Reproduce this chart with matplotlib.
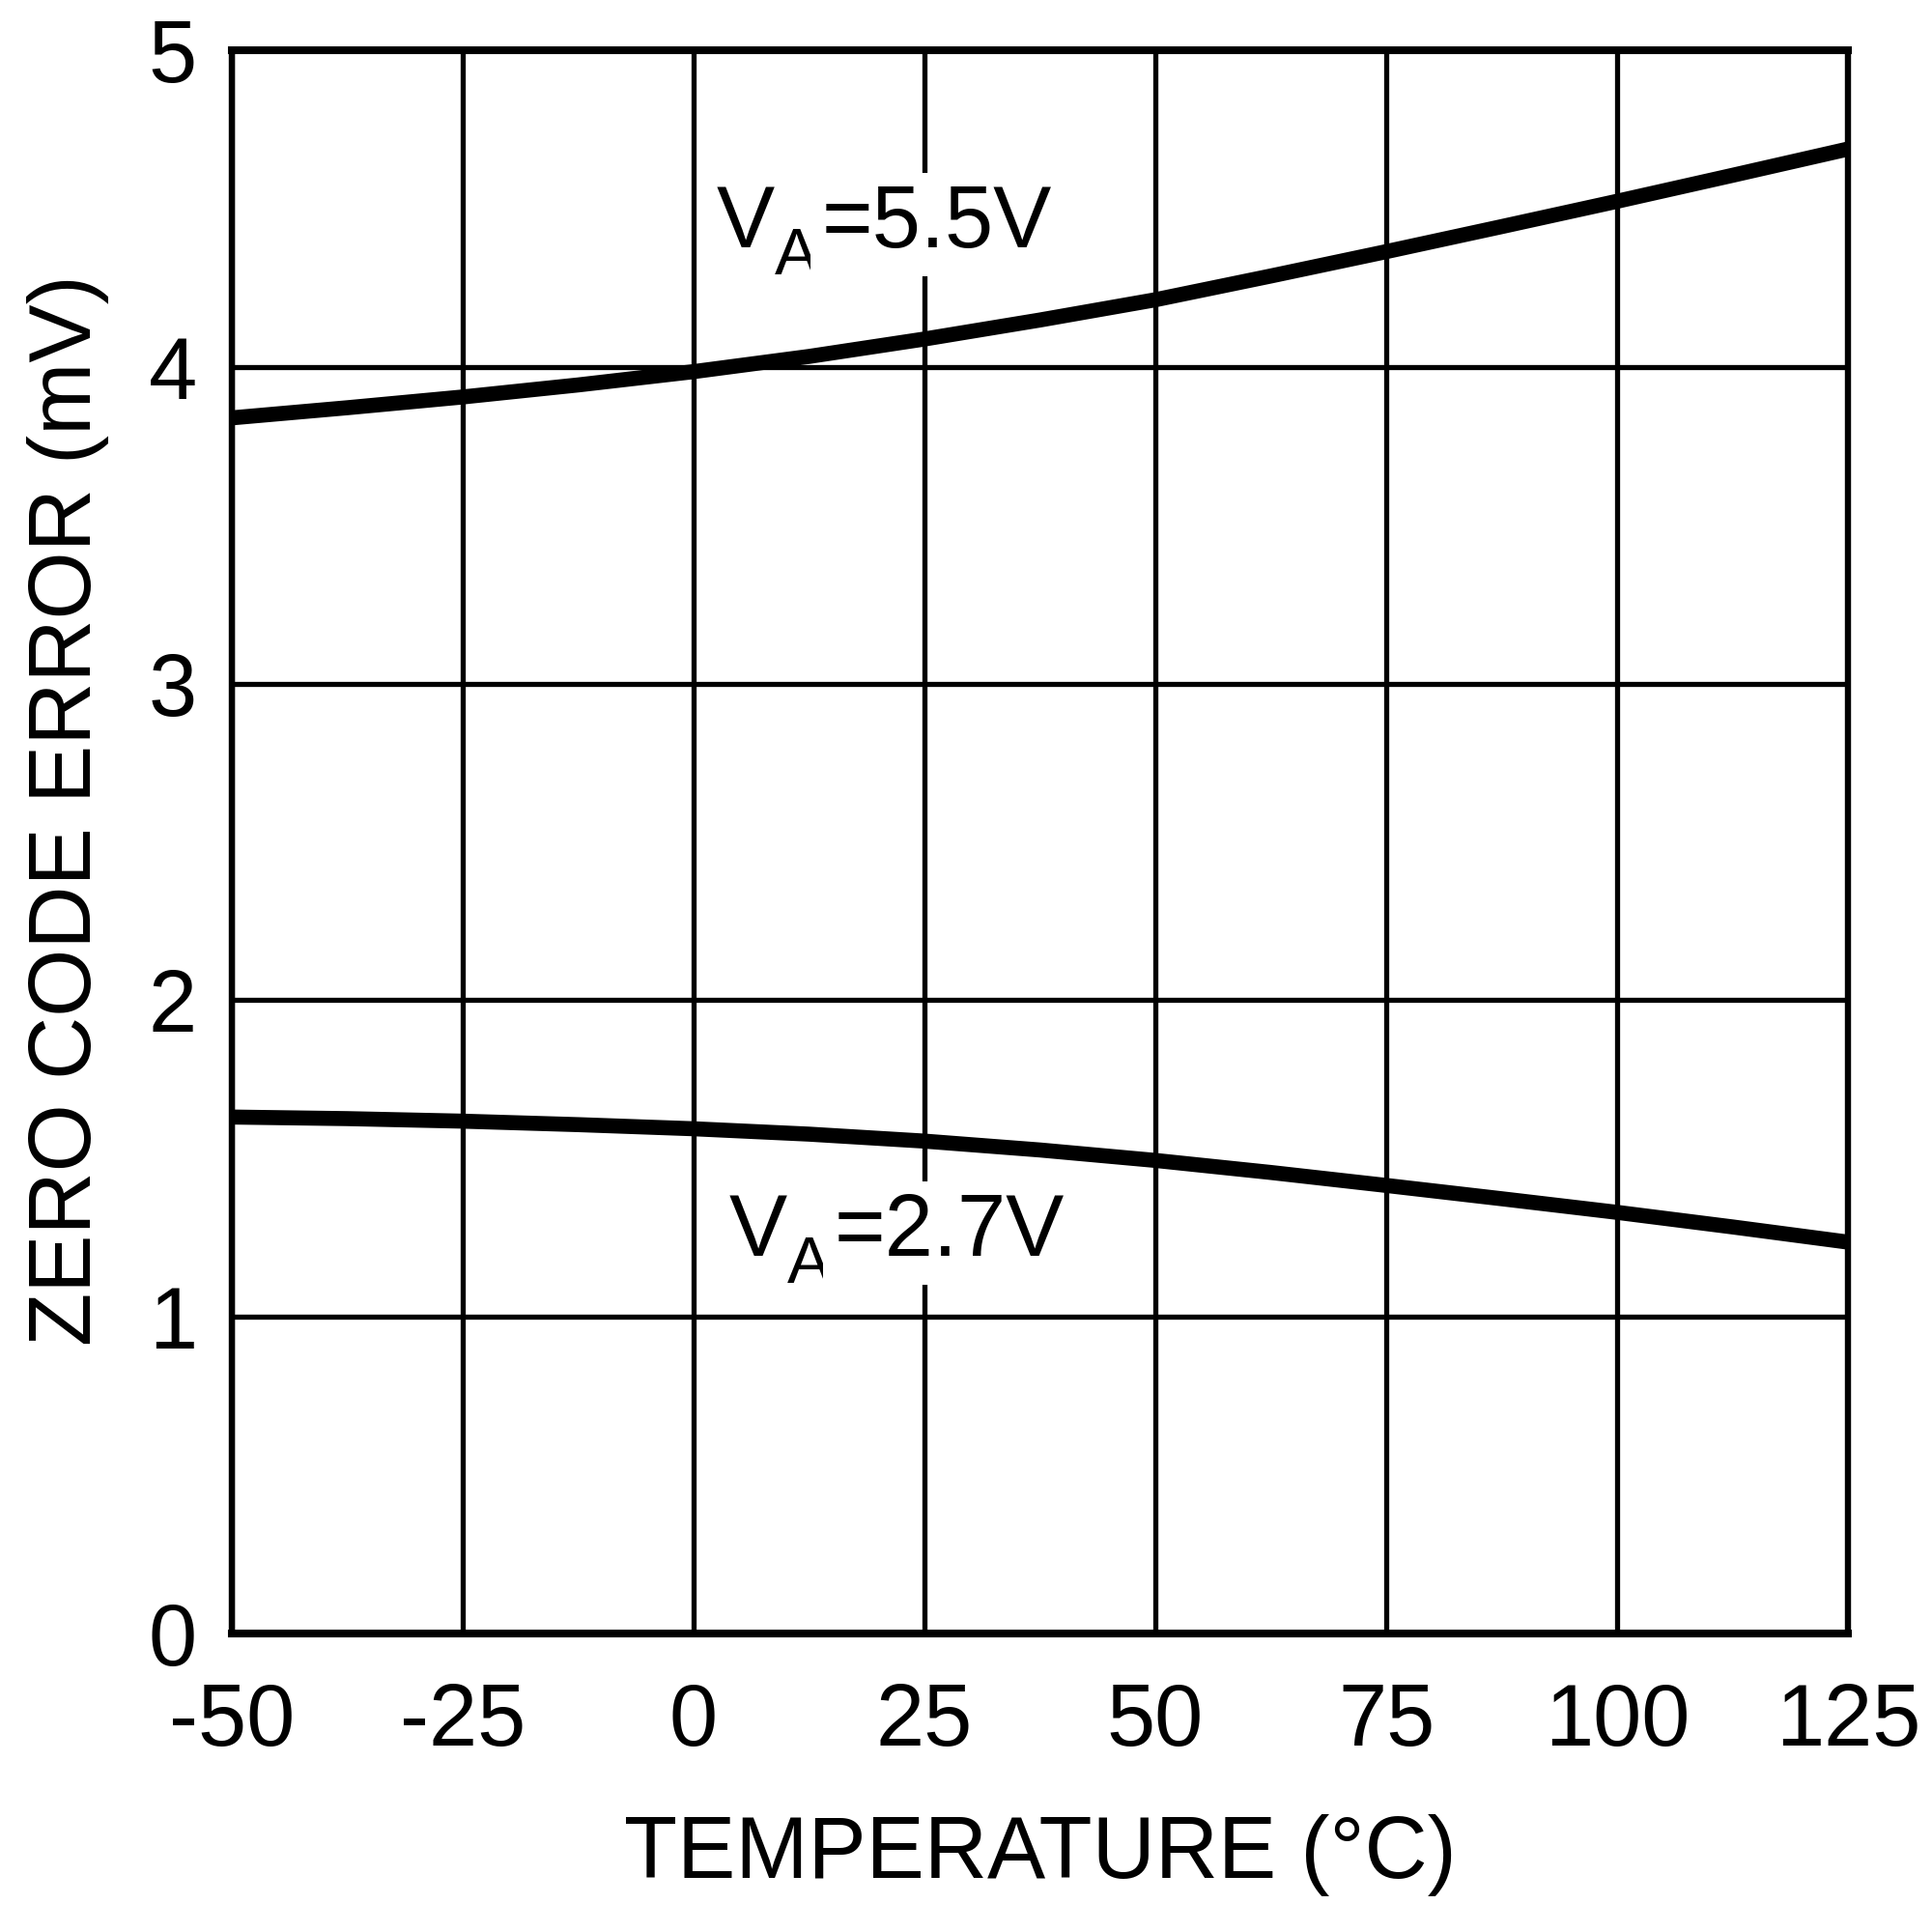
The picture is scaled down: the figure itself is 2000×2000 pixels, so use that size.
import matplotlib
matplotlib.use('Agg')
import matplotlib.pyplot as plt

plt.rcParams['font.family'] = ['Liberation Sans', 'DejaVu Sans']
plt.rcParams['axes.unicode_minus'] = False

# temperature (degC) and zero code error (mV)
temp = [-50, -37.5, -25, -12.5, 0, 12.5, 25, 37.5, 50, 62.5, 75, 87.5, 100, 112.5, 125]
err_55 = [3.839, 3.871, 3.905, 3.943, 3.985, 4.033, 4.088, 4.148,
          4.212, 4.287, 4.364, 4.443, 4.523, 4.605, 4.688]
err_27 = [1.631, 1.626, 1.618, 1.607, 1.594, 1.577, 1.555, 1.527,
          1.494, 1.456, 1.415, 1.373, 1.330, 1.284, 1.236]

x_ticks = [-50, -25, 0, 25, 50, 75, 100, 125]
y_ticks = [0, 1, 2, 3, 4, 5]

fs = 32.5

fig = plt.figure(figsize=(10, 10), dpi=200)
ax = fig.add_axes([0.12, 0.1545, 0.8365, 0.8195])

ax.plot(temp, err_55, color='black', lw=5.6, solid_capstyle='butt',
        solid_joinstyle='round', zorder=3)
ax.plot(temp, err_27, color='black', lw=5.6, solid_capstyle='butt',
        solid_joinstyle='round', zorder=3)

ax.set_xlim(-50, 125)
ax.set_ylim(0, 5)
ax.set_xticks(x_ticks)
ax.set_yticks(y_ticks)
ax.grid(True, color='black', lw=1.9)
ax.tick_params(length=0, labelsize=fs)
ax.tick_params(axis='x', pad=18)
ax.tick_params(axis='y', pad=13)

for side in ['top', 'bottom']:
    ax.spines[side].set_linewidth(2.9)
for side in ['left', 'right']:
    ax.spines[side].set_linewidth(2.3)

ax.set_xlabel('TEMPERATURE (°C)', fontsize=fs)
ax.set_ylabel('ZERO CODE ERROR (mV)', fontsize=fs)
ax.xaxis.set_label_coords(0.5, -0.14)
ax.xaxis.label.set_va('center')
ax.yaxis.set_label_coords(-0.1016, 0.52)
ax.yaxis.label.set_va('center')


# curve labels: V, subscript A, then the rest on the V baseline
def curve_label(x, y, rest):
    t1 = ax.text(x, y, 'V', fontsize=fs, ha='left', va='baseline', zorder=4,
                 bbox=dict(facecolor='white', edgecolor='none', pad=4))
    t2 = ax.annotate('A', xy=(1, 0), xycoords=t1, xytext=(0, -8.3),
                     textcoords='offset points', fontsize=fs * 0.75,
                     ha='left', va='bottom', zorder=4,
                     bbox=dict(facecolor='white', edgecolor='none', pad=0.5))
    ax.annotate(rest, xy=(1, 0), xycoords=(t2, t1), xytext=(1, 0),
                textcoords='offset points', fontsize=fs, ha='left',
                va='bottom', zorder=4,
                bbox=dict(facecolor='white', edgecolor='none', pad=4))


curve_label(2.5, 4.378, '=5.5V')
curve_label(3.87, 1.193, '=2.7V')

fig.savefig('out.png', dpi=200)
